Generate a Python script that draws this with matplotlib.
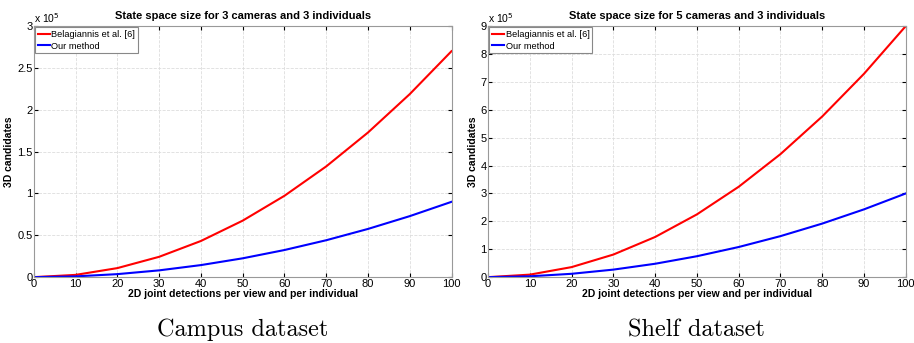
import numpy as np
import matplotlib
matplotlib.use('Agg')
import matplotlib.pyplot as plt

plt.rcParams['font.family'] = ['Liberation Sans', 'DejaVu Sans']

# detections per view and per individual
x = [0, 10, 20, 30, 40, 50, 60, 70, 80, 90, 100]

# Campus: 3 cameras, 3 individuals
campus_bel = [0, 2700, 10800, 24300, 43200, 67500, 97200, 132300, 172800, 218700, 270000]
campus_our = [0, 900, 3600, 8100, 14400, 22500, 32400, 44100, 57600, 72900, 90000]

# Shelf: 5 cameras, 3 individuals
shelf_bel = [0, 9000, 36000, 81000, 144000, 225000, 324000, 441000, 576000, 729000, 900000]
shelf_our = [0, 3000, 12000, 27000, 48000, 75000, 108000, 147000, 192000, 243000, 300000]

titles = ['State space size for 3 cameras and 3 individuals',
          'State space size for 5 cameras and 3 individuals']
captions = ['Campus dataset', 'Shelf dataset']
yticks = [[0, 0.5, 1, 1.5, 2, 2.5, 3], [0, 1, 2, 3, 4, 5, 6, 7, 8, 9]]
ytick_labels = [['0', '0.5', '1', '1.5', '2', '2.5', '3'],
                ['0', '1', '2', '3', '4', '5', '6', '7', '8', '9']]

fig = plt.figure(figsize=(9.14, 3.43), dpi=100)
lefts = [0.037, 0.534]
data = [(campus_bel, campus_our), (shelf_bel, shelf_our)]

for i in range(2):
    ax = fig.add_axes([lefts[i], 0.192, 0.457, 0.732])
    bel, our = data[i]
    ax.plot(x, np.array(bel) / 1e5, color='#ff0000', lw=1.5, label='Belagiannis et al. [6]')
    ax.plot(x, np.array(our) / 1e5, color='#0000ff', lw=1.5, label='Our method')
    ax.set_xlim(0, 100)
    ax.set_ylim(0, yticks[i][-1])
    ax.set_xticks(range(0, 101, 10))
    ax.set_yticks(yticks[i])
    ax.set_yticklabels(ytick_labels[i])
    ax.tick_params(direction='in', length=3, labelsize=8, pad=1, colors='#000000',
                   top=True, right=True)
    ax.grid(True, ls='--', color='#dddddd', lw=0.6)
    for s in ax.spines.values():
        s.set_color('#999999')
    ax.set_title(titles[i], fontsize=8, fontweight='bold', pad=5)
    ax.set_xlabel('2D joint detections per view and per individual', fontsize=7.5,
                  fontweight='bold', labelpad=0)
    ax.set_ylabel('3D candidates', fontsize=7.5, fontweight='bold', labelpad=2)
    ax.text(0.0, 1.005, r'x 10$^5$', transform=ax.transAxes, fontsize=7.5,
            ha='left', va='bottom')
    leg = ax.legend(loc='upper left', fontsize=6.7, handlelength=1.3, handletextpad=0.2,
                    borderpad=0.25, labelspacing=0.3, borderaxespad=0.15,
                    fancybox=False, framealpha=1)
    leg.get_frame().set_edgecolor('#888888')
    leg.get_frame().set_linewidth(0.8)
    fig.text(lefts[i] + 0.457 / 2, 0.02, captions[i], family='cmr10', fontsize=17.5,
             ha='center', va='baseline')

fig.savefig('out.png', dpi=100)
